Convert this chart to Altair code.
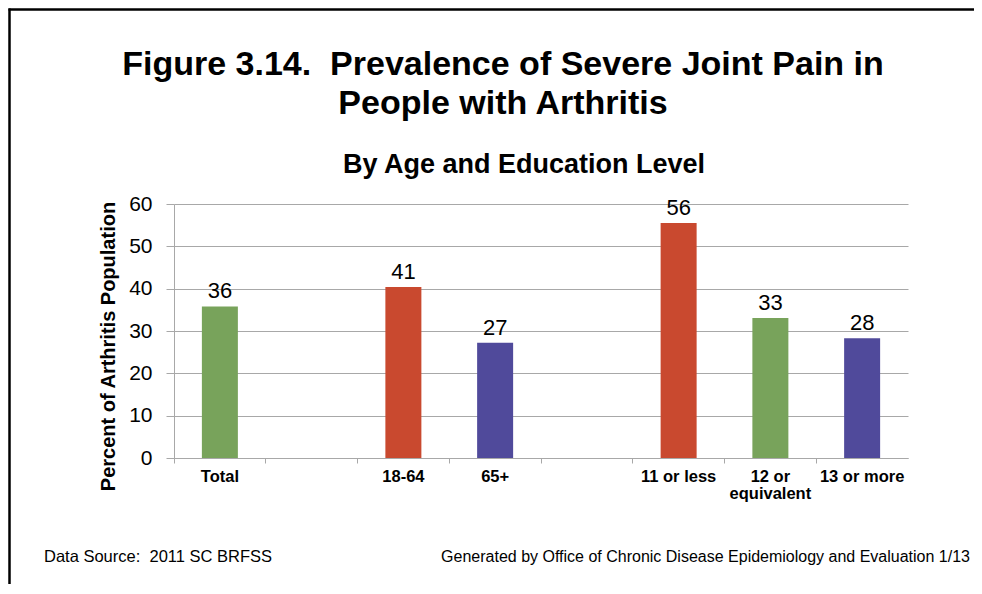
import altair as alt
import pandas as pd

# ---- data ----
categories = ["Total", "gap1", "18-64", "65+", "gap2", "11 or less", "12 or|equivalent", "13 or more"]
bar_categories = ["Total", "18-64", "65+", "11 or less", "12 or|equivalent", "13 or more"]
values = [35.8, 40.4, 27.2, 55.5, 33.1, 28.3]
value_labels = ["36", "41", "27", "56", "33", "28"]
colour_groups = ["green", "red", "blue", "red", "green", "blue"]
colour_domain = ["green", "red", "blue"]
colour_range = ["#78A35B", "#C9492F", "#504A9B"]
y_ticks = [0, 10, 20, 30, 40, 50, 60]

title_line1 = "Figure 3.14.\u00a0 Prevalence of Severe Joint Pain in"
title_line2 = "People with Arthritis"
subtitle = "By Age and Education Level"
y_title = "Percent of Arthritis Population"
footer_left = "Data Source:\u00a0 2011 SC BRFSS"
footer_right = "Generated by Office of Chronic Disease Epidemiology and Evaluation 1/13"

FONT = "Liberation Sans"
GRID = "#A8A8A8"
W, H = 734, 254

df = pd.DataFrame({
    "cat": bar_categories,
    "value": values,
    "label": value_labels,
    "grp": colour_groups,
})

x_enc = alt.X(
    "cat:N",
    sort=categories,
    scale=alt.Scale(domain=categories, paddingInner=0, paddingOuter=0),
    axis=alt.Axis(
        title=None,
        orient="bottom",
        bandPosition=0,
        labelAngle=0,
        labelFont=FONT,
        labelFontSize=16.5,
        labelFontWeight="bold",
        labelColor="black",
        labelPadding=5,
        labelLineHeight=17,
        labelExpr="(datum.label == 'gap1' || datum.label == 'gap2') ? '' : split(datum.label, '|')",
        tickSize=5,
        tickColor=GRID,
        domainColor=GRID,
        grid=False,
    ),
)
y_enc = alt.Y(
    "value:Q",
    scale=alt.Scale(domain=[0, 60], nice=False),
    axis=alt.Axis(
        values=y_ticks,
        title=y_title,
        titleFont=FONT,
        titleFontSize=20,
        titleFontWeight="bold",
        titleColor="black",
        titleAngle=270,
        titleX=-60,
        titleY=142,
        titleAlign="center",
        titleBaseline="alphabetic",
        labelFont=FONT,
        labelFontSize=21,
        labelColor="black",
        labelPadding=14,
        tickSize=8,
        tickColor=GRID,
        domainColor=GRID,
        grid=True,
        gridColor=GRID,
    ),
)

bars = alt.Chart(df).mark_bar(width=36).encode(
    x=x_enc,
    y=y_enc,
    color=alt.Color("grp:N", scale=alt.Scale(domain=colour_domain, range=colour_range), legend=None),
)

value_text = alt.Chart(df).mark_text(
    dy=-8, baseline="alphabetic", font=FONT, fontSize=22, color="black"
).encode(x=x_enc, y=y_enc, text="label:N")


def annot(text, x, y, size, weight="normal", align="center"):
    return alt.Chart(pd.DataFrame({"t": [text]})).mark_text(
        font=FONT, fontSize=size, fontWeight=weight, align=align,
        baseline="alphabetic", color="black"
    ).encode(x=alt.value(x), y=alt.value(y), text="t:N")


t1 = annot(title_line1, 329, -129, 34, "bold")
t2 = annot(title_line2, 329, -90, 34, "bold")
st = annot(subtitle, 350, -31, 27, "bold")
fl = annot(footer_left, -130, 358, 16.5, align="left")
fr = annot(footer_right, 796, 358, 16, align="right")

border_df = pd.DataFrame({"k": [1]})
left_border = alt.Chart(border_df).mark_rule(color="black", strokeWidth=2.5).encode(
    x=alt.value(-164.5), y=alt.value(-195.5), y2=alt.value(390)
)
top_border = alt.Chart(border_df).mark_rule(color="black", strokeWidth=2.5).encode(
    x=alt.value(-165.5), x2=alt.value(808), y=alt.value(-194.5)
)

chart = alt.layer(
    bars, value_text, t1, t2, st, fl, fr, left_border, top_border
).properties(
    width=W,
    height=H,
    autosize=alt.AutoSizeParams(type="none"),
    padding={"left": 166, "top": 196, "right": 66, "bottom": 126},
    background="white",
).configure_view(stroke=None)

chart.save("out.html", embed_options={"renderer": "svg", "actions": False})
